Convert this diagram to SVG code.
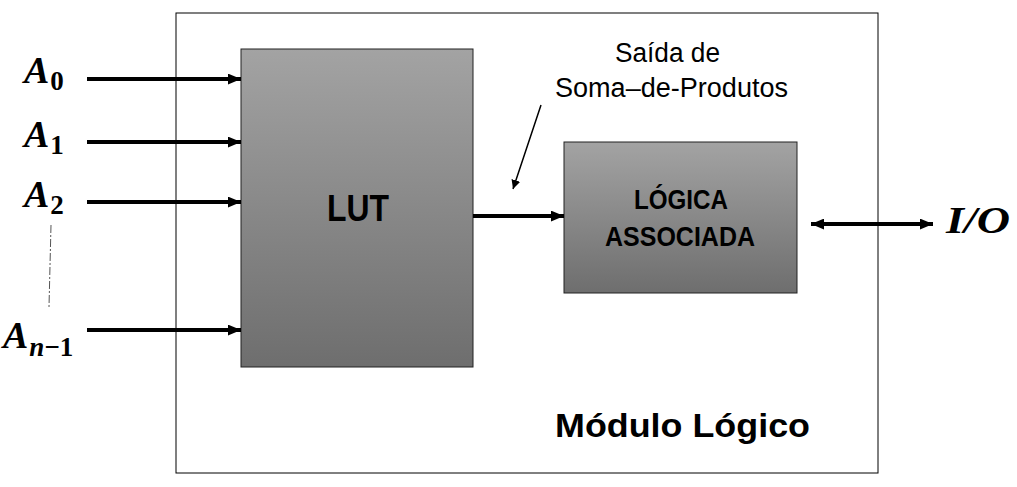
<svg xmlns="http://www.w3.org/2000/svg" width="1017" height="487" viewBox="0 0 1017 487">
<defs>
<linearGradient id="g" x1="0" y1="0" x2="0" y2="1">
<stop offset="0" stop-color="#a3a3a3"/>
<stop offset="1" stop-color="#6e6e6e"/>
</linearGradient>
<marker id="ah" viewBox="0 0 12 10" refX="12" refY="5" markerUnits="userSpaceOnUse" markerWidth="13" markerHeight="11" orient="auto-start-reverse">
<path d="M0,0 L12,5 L0,10 z" fill="#000"/>
</marker>
<marker id="ahs" viewBox="0 0 10 10" refX="10" refY="5" markerUnits="userSpaceOnUse" markerWidth="9" markerHeight="9" orient="auto">
<path d="M0,0 L10,5 L0,10 z" fill="#000"/>
</marker>
</defs>
<style>
.box{fill:url(#g);stroke:#222;stroke-width:1}
.w{stroke:#000;stroke-width:4;fill:none}
.m{font-family:"Liberation Serif",serif;font-weight:bold;font-style:italic;fill:#000}
.d{font-style:normal}
.s{font-family:"Liberation Sans",sans-serif;fill:#000}
.b{font-weight:bold}
</style>
<rect width="1017" height="487" fill="#fff"/>
<g id="modulo">
<rect x="176" y="13" width="702" height="460" fill="none" stroke="#000" stroke-width="1"/>
<text class="s b" x="555" y="437" font-size="34" textLength="255" lengthAdjust="spacingAndGlyphs">Módulo Lógico</text>
</g>
<g id="lut">
<rect class="box" x="241" y="49" width="232" height="318"/>
<text class="s b" x="327" y="221" font-size="37" textLength="62" lengthAdjust="spacingAndGlyphs">LUT</text>
</g>
<g id="logica">
<rect class="box" x="564" y="142" width="233" height="151"/>
<text class="s b" x="634" y="209" font-size="28" textLength="94" lengthAdjust="spacingAndGlyphs">LÓGICA</text>
<text class="s b" x="605" y="246" font-size="28" textLength="150" lengthAdjust="spacingAndGlyphs">ASSOCIADA</text>
</g>
<g id="labels">
<text class="m" x="24" y="83" font-size="38">A<tspan class="d" font-size="27" dx="1" dy="7">0</tspan></text>
<text class="m" x="24" y="147" font-size="38">A<tspan class="d" font-size="27" dx="1" dy="7">1</tspan></text>
<text class="m" x="24" y="207" font-size="38">A<tspan class="d" font-size="27" dx="1" dy="7">2</tspan></text>
<text class="m" x="3" y="348" font-size="38">A<tspan font-size="27" dx="1" dy="8">n</tspan><tspan class="d" font-size="27">−1</tspan></text>
<text class="m" x="946" y="233" font-size="37" textLength="64" lengthAdjust="spacingAndGlyphs">I/O</text>
<text class="s" x="615" y="62" font-size="27" textLength="105" lengthAdjust="spacingAndGlyphs">Saída de</text>
<text class="s" x="555" y="97" font-size="27" textLength="233" lengthAdjust="spacingAndGlyphs">Soma–de-Produtos</text>
</g>
<g id="connectors">
<line class="w" x1="87" y1="79" x2="241" y2="79" marker-end="url(#ah)"/>
<line class="w" x1="87" y1="142" x2="241" y2="142" marker-end="url(#ah)"/>
<line class="w" x1="87" y1="202" x2="241" y2="202" marker-end="url(#ah)"/>
<line class="w" x1="87" y1="330" x2="241" y2="330" marker-end="url(#ah)"/>
<line class="w" x1="473" y1="216" x2="564" y2="216" marker-end="url(#ah)"/>
<line class="w" x1="811" y1="224" x2="933" y2="224" marker-start="url(#ah)" marker-end="url(#ah)"/>
<line x1="541" y1="105" x2="513" y2="189" stroke="#000" stroke-width="1.5" marker-end="url(#ahs)"/>
<line x1="51" y1="225" x2="49" y2="307" stroke="#555" stroke-width="1" stroke-dasharray="8,2,2,2"/>
</g>
</svg>
